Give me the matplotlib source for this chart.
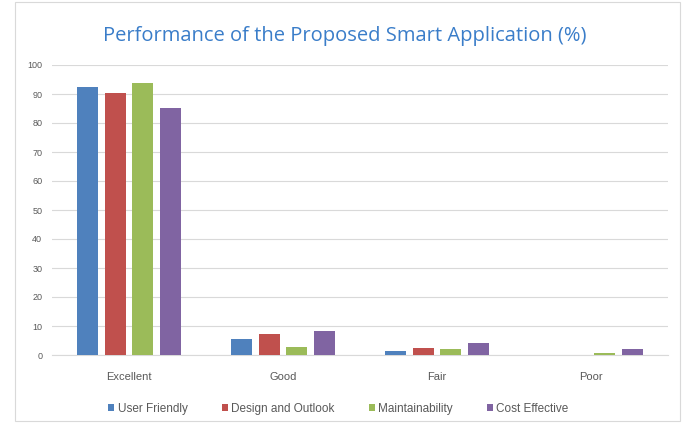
import numpy as np
import matplotlib
matplotlib.use("Agg")
from matplotlib import pyplot as plt
from matplotlib.patches import Rectangle

categories = ["Excellent", "Good", "Fair", "Poor"]
series = ["User Friendly", "Design and Outlook", "Maintainability", "Cost Effective"]
user_friendly = [92.5, 5.4, 1.5, 0.0]
design_outlook = [90.4, 7.2, 2.3, 0.0]
maintainability = [93.9, 2.9, 2.0, 0.7]
cost_effective = [85.0, 8.4, 4.2, 2.0]
colors = ["#4F81BD", "#C0504D", "#9BBB59", "#8064A2"]

values = [user_friendly, design_outlook, maintainability, cost_effective]

plt.rcParams['font.family'] = ['Liberation Sans', 'DejaVu Sans']
fig = plt.figure(figsize=(6.86, 4.23), dpi=100)
fig.patches.append(Rectangle((15/686, 2/423), 665/686, 419/423, transform=fig.transFigure,
                             fill=False, edgecolor="#D9D9D9", lw=0.8))
ax = fig.add_axes([52/686, 68/423, 616/686, 290/423])

x = np.arange(len(categories))
pitch = 0.18
width = 0.137
for i, (vals, name) in enumerate(zip(values, series)):
    ax.bar(x + (i - 1.5) * pitch, vals, width, color=colors[i], label=name, zorder=3)

ax.set_xlim(-0.5, 3.5)
ax.set_ylim(0, 100)
ax.set_yticks(range(0, 101, 10))
ax.grid(axis="y", color="#D9D9D9", lw=0.8, zorder=0)
for s in ["top", "right", "left"]:
    ax.spines[s].set_visible(False)
ax.spines["bottom"].set_color("#D9D9D9")
ax.tick_params(axis="both", length=0, colors="#595959", labelsize=8)
ax.tick_params(axis="x", pad=12)
ax.tick_params(axis="y", labelsize=6.5, pad=7)
ax.set_xticks(x)
ax.set_xticklabels(categories)

fig.text(0.503, 0.915, "Performance of the Proposed Smart Application (%)", ha="center", va="center",
         fontsize=14.5, color="#3A7DC9", family=["Open Sans", "DejaVu Sans"])

ax.legend(loc="center", bbox_to_anchor=(0.465, -0.185), ncol=4, frameon=False, fontsize=8.5,
          handlelength=0.5, handleheight=0.5, handletextpad=0.3, columnspacing=2.9,
          labelcolor="#595959")

fig.savefig("out.png", dpi=100)
